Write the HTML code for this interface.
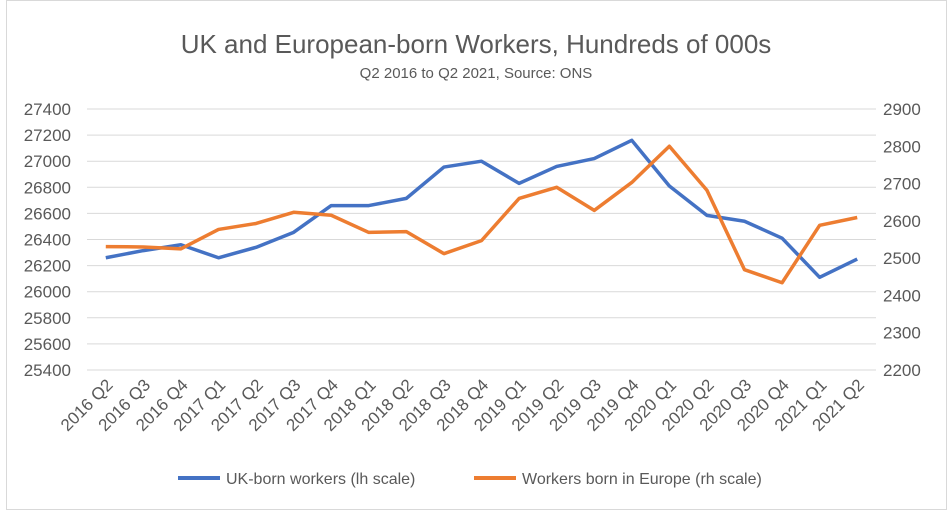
<!DOCTYPE html>
<html><head><meta charset="utf-8"><style>
body{margin:0;background:#fff;font-family:"Liberation Sans",Calibri,sans-serif}
svg text{font-family:"Liberation Sans",sans-serif;fill:#595959}
</style></head><body>
<svg id="chart" width="952" height="515" viewBox="0 0 952 515" xmlns="http://www.w3.org/2000/svg">
<rect x="6.5" y="0.5" width="940" height="509" fill="#fff" stroke="#d9d9d9"/>
<text x="476" y="53" text-anchor="middle" font-size="26">UK and European-born Workers, Hundreds of 000s</text>
<text x="476" y="78" text-anchor="middle" font-size="15">Q2 2016 to Q2 2021, Source: ONS</text>
<g id="grid"></g><g id="axes"></g><g id="series"></g>
<g>
<line x1="178" y1="478" x2="220" y2="478" stroke="#4472c4" stroke-width="4"/>
<text x="226" y="484" font-size="16">UK-born workers (lh scale)</text>
<line x1="474" y1="478" x2="516" y2="478" stroke="#ed7d31" stroke-width="4"/>
<text x="522" y="484" font-size="16">Workers born in Europe (rh scale)</text>
</g>
</svg>
<script>
const categories=["2016 Q2","2016 Q3","2016 Q4","2017 Q1","2017 Q2","2017 Q3","2017 Q4","2018 Q1","2018 Q2","2018 Q3","2018 Q4","2019 Q1","2019 Q2","2019 Q3","2019 Q4","2020 Q1","2020 Q2","2020 Q3","2020 Q4","2021 Q1","2021 Q2"];
const ukBorn=[26260,26315,26360,26260,26340,26455,26660,26660,26715,26955,27000,26830,26960,27020,27160,26810,26585,26540,26410,26110,26250];
const euroBorn=[2531,2530,2525,2577,2593,2623,2615,2569,2571,2512,2547,2660,2690,2628,2703,2800,2682,2469,2434,2588,2609];
const leftTicks=[25400,25600,25800,26000,26200,26400,26600,26800,27000,27200,27400];
const rightTicks=[2200,2300,2400,2500,2600,2700,2800,2900];
const NS="http://www.w3.org/2000/svg";
const X0=87,X1=876,Y0=370,Y1=109;
const band=(X1-X0)/categories.length;
const x=i=>X0+band*(i+0.5);
const yL=v=>Y0-(v-25400)/(27400-25400)*(Y0-Y1);
const yR=v=>Y0-(v-2200)/(2900-2200)*(Y0-Y1);
function mk(t,a,p){const e=document.createElementNS(NS,t);for(const k in a)e.setAttribute(k,a[k]);p.appendChild(e);return e;}
const grid=document.getElementById('grid'),axes=document.getElementById('axes'),series=document.getElementById('series');
leftTicks.forEach(v=>{
 const l=mk('line',{x1:X0,x2:X1,y1:yL(v),y2:yL(v),stroke:'#d9d9d9'},grid);
 
 
 const t=mk('text',{x:71,y:yL(v)+6,'text-anchor':'end','font-size':17},axes);
 t.textContent=v;
 
 
});
rightTicks.forEach(v=>{
 const t=mk('text',{x:883,y:yR(v)+6,'font-size':17},axes);
 t.textContent=v;
 
 
});
categories.forEach((c,i)=>{
 const t=mk('text',{x:x(i)+8,y:386,'text-anchor':'end','font-size':17,transform:`rotate(-45 ${x(i)+8} 386)`},axes);
 t.textContent=c;
 
 
});
const p1=mk('polyline',{points:ukBorn.map((v,i)=>x(i)+','+yL(v)).join(' '),fill:'none',stroke:'#4472c4','stroke-width':3.5,'stroke-linejoin':'round'},series);


const p2=mk('polyline',{points:euroBorn.map((v,i)=>x(i)+','+yR(v)).join(' '),fill:'none',stroke:'#ed7d31','stroke-width':3.5,'stroke-linejoin':'round'},series);


</script>
</body></html>
